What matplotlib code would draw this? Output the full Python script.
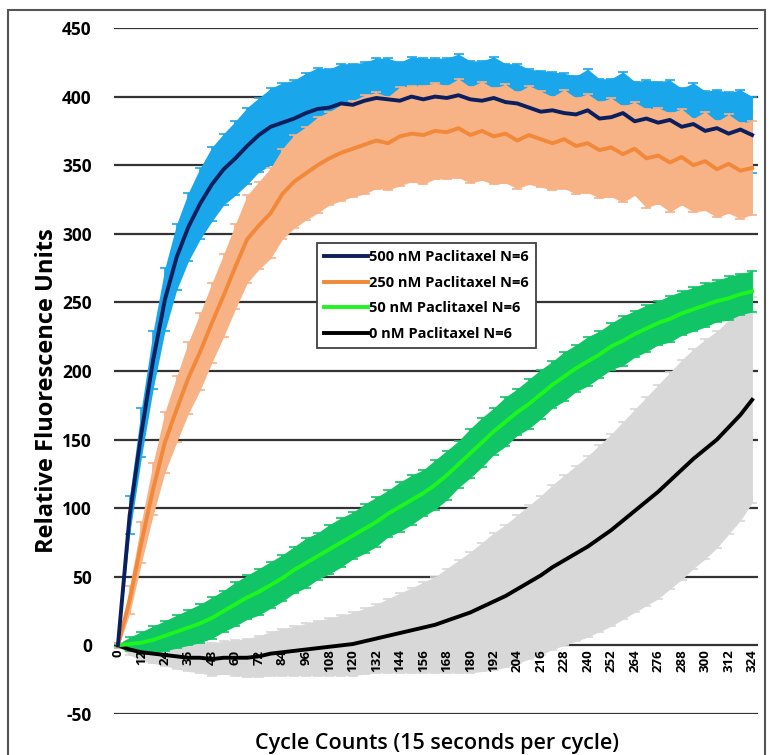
import numpy as np
import matplotlib
matplotlib.use("Agg")
import matplotlib.pyplot as plt
from matplotlib.patches import Rectangle

plt.rcParams['font.family'] = ['Open Sans', 'DejaVu Sans']

# cycle positions (one reading every 6 cycles)
cycles = list(range(0, 325, 6))

# 500 nM Paclitaxel
mean_500 = [0, 95, 155, 208, 252, 283, 305, 322, 336, 347, 355, 364, 372, 378, 381,
            384, 388, 391, 392, 395, 394, 397, 399, 398, 397, 400, 398, 400, 399, 401,
            398, 397, 399, 396, 395, 392, 389, 390, 388, 387, 390, 384, 385, 388, 382,
            384, 381, 383, 378, 380, 375, 377, 373, 376, 372]
err_500 = [2, 14, 18, 21, 23, 24, 25, 26, 27, 26, 27, 28, 27, 28, 29,
           28, 29, 30, 28, 29, 30, 28, 29, 30, 28, 29, 30, 28, 29, 30,
           28, 29, 30, 28, 29, 28, 30, 28, 29, 28, 30, 29, 28, 30, 29,
           28, 30, 29, 28, 30, 29, 28, 30, 29, 28]

# 250 nM Paclitaxel
mean_250 = [0, 33, 75, 114, 148, 172, 195, 214, 235, 255, 276, 296, 306, 315, 329,
            338, 344, 350, 355, 359, 362, 365, 368, 366, 371, 373, 372, 375, 374, 377,
            372, 375, 371, 373, 368, 372, 369, 366, 369, 364, 366, 361, 363, 358, 362,
            355, 357, 352, 356, 350, 353, 347, 351, 346, 348]
err_250 = [2, 10, 15, 19, 22, 24, 26, 28, 29, 30, 31, 32, 32, 33, 33,
           34, 34, 35, 34, 35, 35, 36, 35, 34, 36, 35, 36, 35, 34, 36,
           35, 36, 35, 36, 35, 36, 35, 34, 36, 35, 36, 35, 36, 35, 34,
           36, 35, 36, 35, 34, 36, 35, 36, 35, 34]

# 50 nM Paclitaxel
mean_50 = [0, 1, 2, 4, 7, 10, 13, 16, 20, 25, 30, 35, 39, 44, 49,
           55, 60, 65, 70, 75, 80, 85, 90, 96, 101, 106, 111, 117, 124, 132,
           140, 148, 156, 163, 170, 176, 183, 190, 196, 202, 207, 212, 218, 222, 227,
           231, 235, 238, 242, 245, 248, 251, 253, 256, 258]
err_50 = [1, 5, 8, 10, 11, 12, 13, 14, 15, 15, 16, 16, 17, 17, 17,
          17, 18, 17, 18, 18, 17, 18, 18, 17, 18, 18, 17, 18, 18, 17,
          18, 18, 17, 18, 17, 18, 18, 17, 18, 17, 18, 17, 17, 18, 17,
          17, 16, 17, 16, 16, 16, 15, 16, 15, 15]

# 0 nM Paclitaxel
mean_0 = [0, -3, -5, -6, -7, -8, -9, -9, -10, -9, -9, -9, -8, -6, -5,
          -4, -3, -2, -1, 0, 1, 3, 5, 7, 9, 11, 13, 15, 18, 21,
          24, 28, 32, 36, 41, 46, 51, 57, 62, 67, 72, 78, 84, 91, 98,
          105, 112, 120, 128, 136, 143, 150, 159, 168, 179]
err_0 = [1, 4, 6, 7, 8, 9, 10, 11, 12, 12, 13, 14, 15, 16, 17,
         18, 19, 20, 21, 22, 23, 24, 25, 27, 29, 31, 33, 35, 38, 41,
         44, 47, 50, 52, 54, 56, 58, 60, 62, 64, 66, 68, 70, 72, 74,
         76, 78, 79, 80, 80, 80, 79, 78, 77, 75]

labels = ['500 nM Paclitaxel N=6', '250 nM Paclitaxel N=6',
          '50 nM Paclitaxel N=6', '0 nM Paclitaxel N=6']
line_colors = ['#0B1F5E', '#F2883A', '#1EF51E', '#000000']
band_colors = ['#19A6EA', '#F7B286', '#11C466', '#D8D8D8']

x_ticks = list(range(0, 325, 12))
y_ticks = list(range(-50, 451, 50))

fig = plt.figure(figsize=(7.73, 7.55), dpi=100)
ax = fig.add_axes([114 / 773, 1 - 714 / 755, 644 / 773, 686 / 755])

series = [(mean_500, err_500), (mean_250, err_250), (mean_50, err_50), (mean_0, err_0)]
x = np.array(cycles)

# error bands first (gray, green, blue, peach), then the mean lines on top
band_order = [3, 2, 0, 1]
for z, i in enumerate(band_order):
    m = np.array(series[i][0], dtype=float)
    e = np.array(series[i][1], dtype=float)
    ax.fill_between(x, m - e, m + e, color=band_colors[i], lw=0, zorder=2 + z * 0.1)
    ax.errorbar(x, m, yerr=e, fmt='none', ecolor=band_colors[i], elinewidth=1.2,
                capsize=3.5, capthick=1.2, zorder=2 + z * 0.1)

for i in range(4):
    ax.plot(x, series[i][0], color=line_colors[i], lw=2.8, label=labels[i],
            zorder=4 + (3 - i) * 0.1, solid_joinstyle='round')

ax.set_xlim(-2, 327)
ax.set_ylim(-50, 450)

for yv in y_ticks:
    ax.axhline(yv, color='#333333', lw=1.6, zorder=1)

ax.set_yticks(y_ticks)
ax.set_yticklabels([str(v) for v in y_ticks], fontsize=12.5, fontweight='bold')
ax.tick_params(axis='y', length=0, pad=16)

ax.spines['bottom'].set_position(('data', 0))
for s in ax.spines.values():
    s.set_visible(False)
ax.set_xticks(x_ticks)
ax.set_xticklabels([str(v) for v in x_ticks], rotation=90, fontsize=9.5,
                   fontweight='bold', va='top')
ax.tick_params(axis='x', length=0, pad=3)
ax.xaxis.set_zorder(8)

fig.text(47 / 773, 1 - 391 / 755, 'Relative Fluorescence Units', fontsize=17,
         fontweight='bold', rotation=90, ha='center', va='center')
fig.text(437 / 773, 1 - 743 / 755, 'Cycle Counts (15 seconds per cycle)', fontsize=15.5,
         ha='center', va='center', fontweight='semibold')

leg = ax.legend(loc='upper left', bbox_to_anchor=(0.315, 0.687), borderaxespad=0,
                frameon=True, fancybox=False, edgecolor='#404040', framealpha=1,
                prop={'size': 10.5, 'weight': 'bold'}, handlelength=3.0,
                handletextpad=0.1, labelspacing=0.8, borderpad=0.5)
leg.get_frame().set_linewidth(1.3)
leg.set_zorder(9)

# outer frame around the whole picture
fig.patches.append(Rectangle((8 / 773, -0.01), 757 / 773, 1 - 10 / 755 + 0.01,
                             transform=fig.transFigure, fill=False,
                             edgecolor='#555555', lw=1.5))

fig.savefig('out.png', dpi=100)
